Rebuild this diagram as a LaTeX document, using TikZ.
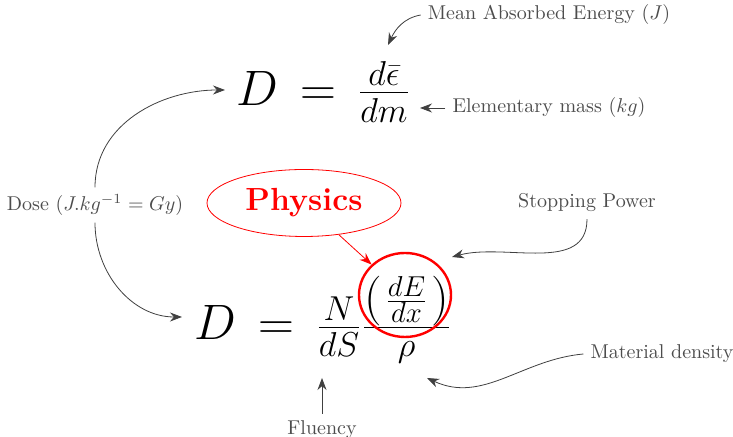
\documentclass[tikz,border=0pt]{standalone}
\usetikzlibrary{arrows.meta,shapes.geometric}
\tikzset{
  note/.style={text=black!70},
  pointer/.style={draw=black!75, -{Stealth[length=6pt,width=4.5pt]}},
  bigeq/.style={font=\fontsize{27}{32}\selectfont},
}
\begin{document}
\begin{tikzpicture}[x=0.5pt,y=0.5pt]
  \useasboundingbox (0,0) rectangle (733,437);

  % the two formulas
  \node[bigeq] (Dtop) at (323,345) {$D\,=\,\frac{d\bar{\epsilon}}{dm}$};
  \node[bigeq] (Dbot) at (323,117) {$D\,=\,\frac{N}{dS}\frac{\left(\mkern2mu\frac{dE}{dx}\mkern2mu\right)}{\rho}$};

  % comments around them
  \node[note] (energy) at (549,422) {Mean Absorbed Energy ($J$)};
  \node[note] (mass) at (549,329) {Elementary mass ($kg$)};
  \node[note] (dose) at (95,232) {Dose ($J.kg^{-1} = Gy$)};
  \node[note] (stopping) at (587,234) {Stopping Power};
  \node[note] (density) at (662,83) {Material density};
  \node[note] (fluency) at (322,7) {Fluency};
  \node[ellipse, draw=red, text=red, font=\fontsize{16}{19}\selectfont\bfseries,
        minimum width=97pt, minimum height=33.5pt] (physics) at (304,234) {Physics};
  \node[ellipse, draw=red, very thick, minimum width=46pt, minimum height=42pt] (dEdx) at (405,142) {};

  \coordinate (epsbar) at (388,392);
  \coordinate (dm) at (420,329);
  \coordinate (Dup) at (225,347);
  \coordinate (Ddown) at (182,120);
  \coordinate (paren) at (452,180);
  \coordinate (rho) at (427,59);
  \coordinate (dS) at (322,59);

  \draw[pointer] (energy.west) to[out=190,in=65] (epsbar);
  \draw[pointer] (mass.west) -- (dm);
  \draw[pointer] (dose.north) to[out=90,in=180] (Dup);
  \draw[pointer] (dose.south) to[out=-90,in=180] (Ddown);
  \draw[pointer] (stopping.south) to[out=-90,in=15] (paren);
  \draw[pointer] (density.west) to[out=185,in=-25] (rho);
  \draw[pointer] (fluency.north) -- (dS);
  \draw[red, -{Stealth[length=6pt,width=4.5pt]}] (physics) -- (dEdx);
\end{tikzpicture}
\end{document}
